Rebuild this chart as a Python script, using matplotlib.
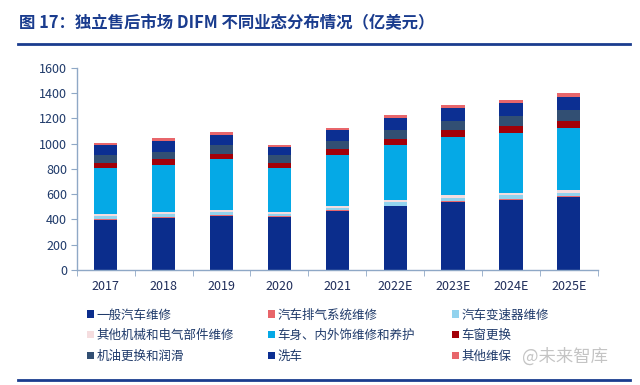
import numpy as np
import matplotlib
matplotlib.use("Agg")
import matplotlib.pyplot as plt
from matplotlib.patches import Patch

plt.rcParams['font.family'] = ['Noto Sans CJK SC', 'DejaVu Sans']

years = ['2017', '2018', '2019', '2020', '2021', '2022E', '2023E', '2024E', '2025E']

# 亿美元 (bottom to top)
general_repair = [399, 412, 428, 420, 465, 504, 540, 557, 577]
exhaust_repair = [6, 6, 6, 5, 6, 6, 7, 7, 7]
transmission_repair = [22, 23, 23, 20, 22, 24, 26, 27, 27]
other_mech_repair = [15, 17, 17, 15, 16, 18, 20, 21, 21]
body_care = [365, 375, 402, 346, 399, 439, 461, 472, 491]
glass_replace = [42, 45, 45, 39, 45, 47, 53, 52, 55]
oil_change = [57, 57, 65, 65, 65, 73, 71, 84, 84]
car_wash = [79, 87, 84, 65, 87, 94, 100, 100, 105]
other_care = [21, 21, 20, 16, 21, 24, 26, 24, 31]

series = [
    ('一般汽车维修', general_repair, '#0B2D8C'),
    ('汽车排气系统维修', exhaust_repair, '#E8656A'),
    ('汽车变速器维修', transmission_repair, '#92D3EE'),
    ('其他机械和电气部件维修', other_mech_repair, '#F5DDDF'),
    ('车身、内外饰维修和养护', body_care, '#05A9E6'),
    ('车窗更换', glass_replace, '#A30008'),
    ('机油更换和润滑', oil_change, '#324F73'),
    ('洗车', car_wash, '#0C2F92'),
    ('其他维保', other_care, '#E8666B'),
]

fig = plt.figure(figsize=(6.4, 3.85), dpi=100)
ax = fig.add_axes([0.120, 0.2987, 0.814, 0.5255])

x = np.arange(len(years))
bottom = np.zeros(len(years))
for name, vals, color in series:
    ax.bar(x, vals, width=0.40, bottom=bottom, color=color, label=name, zorder=2)
    bottom += np.array(vals)

ax.set_xlim(-0.5, len(years) - 0.5)
ax.set_ylim(0, 1600)
ax.set_yticks(np.arange(0, 1601, 200))
ax.set_xticks(x)
ax.set_xticklabels(years)
ax.set_xticks(np.arange(-0.5, len(years), 1), minor=True)

axis_col = '#8FA8C6'
for s in ['top', 'right']:
    ax.spines[s].set_visible(False)
for s in ['left', 'bottom']:
    ax.spines[s].set_color(axis_col)
    ax.spines[s].set_linewidth(1.0)
ax.tick_params(axis='x', which='major', length=0, pad=7, labelsize=9, labelcolor='#1F2D5A')
ax.tick_params(axis='x', which='minor', length=4, color=axis_col)
ax.tick_params(axis='y', length=4, color=axis_col, labelsize=9, labelcolor='#1F3A6A', pad=3)

# title and rules
fig.text(0.030, 0.941, '图 17：独立售后市场 DIFM 不同业态分布情况（亿美元）',
         fontsize=11.8, fontweight='bold', color='#1A3C8E', va='center')
fig.add_artist(plt.Line2D([0.028, 0.985], [0.885, 0.885], color='#1A3C8E', lw=2.0))
fig.add_artist(plt.Line2D([0.028, 0.985], [0.013, 0.013], color='#1A3C8E', lw=2.0))

# legend, three columns placed separately, filled row-wise
handles = [Patch(facecolor=c, edgecolor='none') for _, _, c in series]
labels = [n for n, _, _ in series]
col_x = [0.136, 0.419, 0.706]
for ci in range(3):
    idx = [ci, ci + 3, ci + 6]
    leg = fig.legend([handles[i] for i in idx], [labels[i] for i in idx],
                     loc='upper left', bbox_to_anchor=(col_x[ci], 0.199),
                     frameon=False, fontsize=9, handlelength=0.55, handleheight=0.55,
                     handletextpad=0.2, labelspacing=0.62, borderpad=0, borderaxespad=0)
    for t in leg.get_texts():
        t.set_color('#1F3A6A')

fig.text(0.815, 0.075, '@未来智库', fontsize=12.5, color='#C4C4C4', va='center')

fig.savefig('out.png', dpi=100)
